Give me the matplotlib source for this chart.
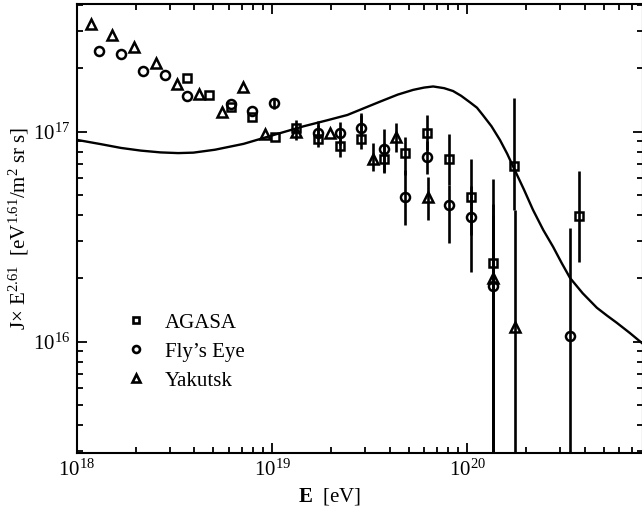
import matplotlib
matplotlib.use("Agg")
import matplotlib.pyplot as plt
from matplotlib.lines import Line2D

plt.rcParams['font.family'] = ['Liberation Serif', 'DejaVu Serif']
plt.rcParams['mathtext.fontset'] = 'custom'
plt.rcParams['mathtext.rm'] = 'Liberation Serif'
plt.rcParams['mathtext.it'] = 'Liberation Serif:italic'
plt.rcParams['mathtext.bf'] = 'Liberation Serif:bold'

# model curve
curve_E = [1.0e18, 1.32e18, 1.68e18, 2.12e18, 2.68e18, 3.3e18, 3.95e18, 5.1e18,
           7.13e18, 1.02e19, 1.45e19, 1.9e19, 2.43e19, 3.0e19, 3.58e19, 4.4e19,
           5.28e19, 6.0e19, 6.68e19, 7.6e19, 8.45e19, 9.3e19, 1.03e20, 1.12e20,
           1.20e20, 1.33e20, 1.47e20, 1.60e20, 1.73e20, 1.95e20, 2.17e20, 2.45e20,
           2.75e20, 3.05e20, 3.36e20, 3.9e20, 4.61e20, 5.2e20, 5.83e20, 6.8e20, 7.9e20]
curve_J = [9.13e16, 8.72e16, 8.36e16, 8.12e16, 7.96e16, 7.9e16, 7.94e16, 8.2e16,
           8.74e16, 9.64e16, 1.06e17, 1.13e17, 1.20e17, 1.30e17, 1.39e17, 1.50e17,
           1.58e17, 1.62e17, 1.64e17, 1.61e17, 1.56e17, 1.48e17, 1.38e17, 1.30e17,
           1.20e17, 1.06e17, 9.12e16, 7.85e16, 6.71e16, 5.3e16, 4.24e16, 3.4e16,
           2.83e16, 2.36e16, 2.01e16, 1.70e16, 1.45e16, 1.33e16, 1.23e16, 1.10e16, 9.8e15]

# AGASA
agasa_E = [3.65e18, 4.74e18, 6.12e18, 7.91e18, 1.03e19, 1.33e19, 1.71e19, 2.23e19,
           2.86e19, 3.72e19, 4.82e19, 6.21e19, 8.09e19, 1.04e20, 1.35e20, 1.73e20, 3.75e20]
agasa_J = [1.80e17, 1.49e17, 1.31e17, 1.17e17, 9.44e16, 1.04e17, 9.2e16, 8.55e16,
           9.23e16, 7.41e16, 7.94e16, 9.83e16, 7.4e16, 4.9e16, 2.36e16, 6.88e16, 3.97e16]
agasa_lo = [None, None, None, None, None, 9.13e16, 8.48e16, 7.58e16,
            8.27e16, 6.36e16, 6.22e16, 8.18e16, 5.57e16, 3.22e16, 1e14, 4.23e16, 2.40e16]
agasa_hi = [None, None, None, None, None, 1.14e17, 1.12e17, 1.01e17,
            1.23e17, 8.84e16, 9.44e16, 1.20e17, 9.75e16, 7.41e16, 5.96e16, 1.45e17, 6.51e16]

# Fly's Eye
fly_E = [1.30e18, 1.68e18, 2.18e18, 2.82e18, 3.65e18, 6.12e18, 7.91e18, 1.02e19,
         1.71e19, 2.23e19, 2.86e19, 3.72e19, 4.82e19, 6.21e19, 8.09e19, 1.04e20,
         1.35e20, 3.35e20]
fly_J = [2.43e17, 2.34e17, 1.95e17, 1.85e17, 1.47e17, 1.35e17, 1.25e17, 1.37e17,
         9.83e16, 9.9e16, 1.04e17, 8.25e16, 4.9e16, 7.55e16, 4.49e16, 3.91e16,
         1.84e16, 1.06e16]
fly_lo = [None, None, None, None, None, None, None, 1.28e17,
          9.2e16, 8.64e16, 9.6e16, 6.43e16, 3.6e16, 6.3e16, 2.94e16, 2.15e16,
          1e14, 1e14]
fly_hi = [None, None, None, None, None, None, None, 1.44e17,
          1.08e17, 1.11e17, 1.2e17, 1.03e17, 6.58e16, 9.0e16, 5.57e16, 5.5e16,
          4.0e16, 3.49e16]

# Yakutsk
yak_E = [1.18e18, 1.51e18, 1.96e18, 2.55e18, 3.27e18, 4.22e18, 5.51e18, 7.1e18,
         9.14e18, 1.33e19, 1.97e19, 3.29e19, 4.29e19, 6.3e19, 1.35e20, 1.76e20]
yak_J = [3.26e17, 2.89e17, 2.54e17, 2.13e17, 1.69e17, 1.51e17, 1.24e17, 1.63e17,
         9.72e16, 1.0e17, 9.89e16, 7.41e16, 9.47e16, 4.9e16, 2.0e16, 1.17e16]
yak_lo = [None, None, None, None, None, None, None, None,
          None, None, None, 6.5e16, 8.0e16, 3.79e16, 1e14, 1e14]
yak_hi = [None, None, None, None, None, None, None, None,
          None, None, None, 8.84e16, 1.10e17, 6.08e16, 4.5e16, 4.23e16]

fig = plt.figure(figsize=(6.42, 5.12), dpi=100)
ax = fig.add_axes([77 / 642, (512 - 452.7) / 512, (642.5 - 77) / 642, (452.7 - 4) / 512])

ax.plot(curve_E, curve_J, color='black', lw=1.7, zorder=2)

series = [(agasa_E, agasa_J, agasa_lo, agasa_hi, 's', 5.5, 'AGASA'),
          (fly_E, fly_J, fly_lo, fly_hi, 'o', 6.5, "Fly\u2019s Eye"),
          (yak_E, yak_J, yak_lo, yak_hi, '^', 7, 'Yakutsk')]
handles = []
for E, J, lo, hi, mk, ms, lab in series:
    for e, l, h in zip(E, lo, hi):
        if l is not None:
            ax.vlines(e, l, h, color='black', lw=1.9, zorder=3)
    ax.plot(E, J, linestyle='none', marker=mk, ms=ms, mfc='none', mec='black',
            mew=1.8, zorder=4)
    handles.append(Line2D([], [], linestyle='none', marker=mk, ms=ms - 1.5, mfc='none',
                          mec='black', mew=1.9, label=lab))

ax.set_xscale('log')
ax.set_yscale('log')
ax.set_xlim(1e18, 7.9e20)
ax.set_ylim(2.96e15, 4.05e17)

ax.tick_params(which='both', direction='in', top=True, right=True, labelsize=15, width=1.3)
ax.tick_params(which='major', length=7, pad=5)
ax.tick_params(which='minor', length=4.5)
for s in ax.spines.values():
    s.set_linewidth(1.5)

ax.set_xlabel(r'$\mathbf{E}$  [eV]', fontsize=15, labelpad=0)
ax.xaxis.set_label_coords(0.447, -0.075)
ax.set_ylabel(r'J$\times$ E$^{2.61}$  [eV$^{1.61}$/m$^2$ sr s]', fontsize=15)
ax.yaxis.set_label_coords(-0.082, 0.5)

ax.legend(handles=handles, loc='lower left', bbox_to_anchor=(0.072, 0.12), frameon=False,
          fontsize=15, handlelength=1.0, handletextpad=0.86, labelspacing=0.45,
          borderaxespad=0)

fig.savefig('out.png', dpi=100)
